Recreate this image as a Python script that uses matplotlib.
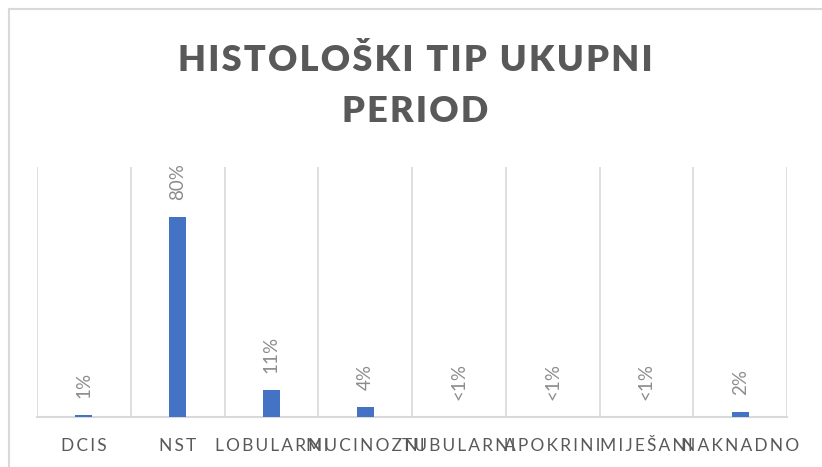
import matplotlib.pyplot as plt
import numpy as np

categories = ["DCIS", "NST", "LOBULARNI", "MUCINOZNI", "TUBULARNI", "APOKRINI", "MIJEŠANI", "NAKNADNO"]
values = [0.8, 80, 10.8, 4, 0.2, 0.2, 0.2, 2]
labels = ["1%", "80%", "11%", "4%", "<1%", "<1%", "<1%", "2%"]

plt.rcParams['font.family'] = ['Lato', 'DejaVu Sans']

def spaced(s, gap="\u2009"):
    # fake letter spacing like the office chart
    return "\n".join(gap.join(ch for ch in line) for line in s.split("\n"))

fig = plt.figure(figsize=(8.22, 4.67), dpi=100)
grey_line = '#D9D9D9'

# chart frame (right/bottom cut off in the original)
fig.add_artist(plt.Line2D([9/822, 9/822], [0, 1 - 9/467], color=grey_line, lw=1.5))
fig.add_artist(plt.Line2D([9/822, 1], [1 - 9/467, 1 - 9/467], color=grey_line, lw=1.5))

ax = fig.add_axes([37/822, 1 - 417/467, 750/822, 250/467])
x = np.arange(len(categories))
ax.bar(x, values, width=0.18, color='#4472C4', zorder=3)
ax.set_xlim(-0.5, len(categories) - 0.5)
ax.set_ylim(0, 100)

for b in np.arange(-0.5, len(categories), 1.0):
    ax.axvline(b, color=grey_line, lw=1.2, zorder=1)
for s in ['top', 'left', 'right']:
    ax.spines[s].set_visible(False)
ax.spines['bottom'].set_color(grey_line)
ax.spines['bottom'].set_linewidth(1.5)
ax.set_yticks([])
ax.set_xticks(x)
ax.set_xticklabels([spaced(c) for c in categories], fontsize=12.5, color='#595959')
ax.tick_params(axis='x', length=0, pad=15)

for xi, v, lab in zip(x, values, labels):
    ax.annotate(lab, (xi, v), xytext=(0, 12), textcoords='offset points',
                rotation=90, ha='center', va='bottom', fontsize=13.5, color='#8C8C8C')

fig.text(0.505, 1 - 86/467, spaced("HISTOLOŠKI TIP UKUPNI\nPERIOD", "\u200a"), ha='center', va='center',
         fontsize=26, fontweight='heavy', color='#595959', linespacing=1.65)

plt.savefig("out.png", dpi=100)
